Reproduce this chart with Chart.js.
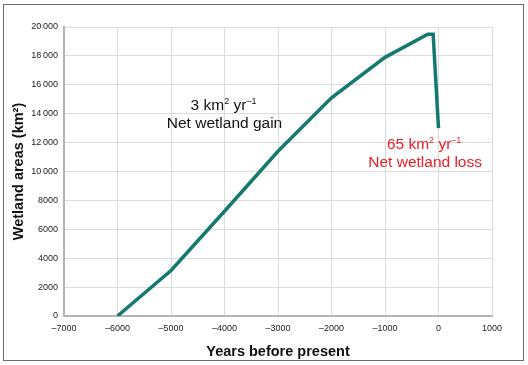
<!DOCTYPE html>
<html>
<head>
<meta charset="utf-8">
<script src="https://cdn.jsdelivr.net/npm/chart.js@4"></script>
<style>
    body { margin: 0; background: #fff; }
    #wrap { position: relative; width: 528px; height: 365px; }
    #frame { position: absolute; left: 3px; top: 4px; width: 519px; height: 355px; border: 1.5px solid #6b6b6b; }
    canvas { position: absolute; left: 0; top: 0; }
</style>
</head>
<body>
<div id="wrap">
    <div id="frame"></div>
    <canvas id="wetlandChart" width="528" height="365"></canvas>
</div>
<script>
// years before present and wetland area (km2)
const years = [-6000, -5000, -4000, -3000, -2000, -1000, -200, -100, 0];
const wetlandArea = [0, 3150, 7250, 11400, 15100, 17900, 19500, 19500, 13000];

const xTicks = [-7000, -6000, -5000, -4000, -3000, -2000, -1000, 0, 1000];
const yTicks = [0, 2000, 4000, 6000, 8000, 10000, 12000, 14000, 16000, 18000, 20000];

const fontFamily = '"Liberation Sans", Arial, Helvetica, sans-serif';

function fmtNum(v) {
    let s = String(Math.abs(v));
    if (Math.abs(v) >= 10000) {
        s = s.slice(0, s.length - 3) + '\u2009' + s.slice(-3);
    }
    return (v < 0 ? '\u2013' : '') + s;
}

// draws text + superscript pieces centred at cx
function drawRich(ctx, parts, cx, y, color) {
    ctx.save();
    ctx.fillStyle = color;
    ctx.textBaseline = 'alphabetic';
    ctx.textAlign = 'left';
    const big = '15.5px ' + fontFamily;
    const small = '9px ' + fontFamily;
    let total = 0;
    parts.forEach(p => {
        ctx.font = p.sup ? small : big;
        total += ctx.measureText(p.t).width;
    });
    let x = cx - total / 2;
    parts.forEach(p => {
        ctx.font = p.sup ? small : big;
        ctx.fillText(p.t, x, p.sup ? y - 6 : y);
        x += ctx.measureText(p.t).width;
    });
    ctx.restore();
}

const notes = {
    id: 'notes',
    afterDatasetsDraw(chart) {
        const ctx = chart.ctx;
        const xs = chart.scales.x;
        const ys = chart.scales.y;
        let cx = xs.getPixelForValue(-4000);
        let y = ys.getPixelForValue(14240);
        drawRich(ctx, [{ t: '3 km' }, { t: '2', sup: true }, { t: ' yr' }, { t: '\u20131', sup: true }], cx - 1, y, '#111');
        drawRich(ctx, [{ t: 'Net wetland gain' }], cx, y + 18, '#111');
        cx = xs.getPixelForValue(-250);
        y = ys.getPixelForValue(11560);
        drawRich(ctx, [{ t: '65 km' }, { t: '2', sup: true }, { t: ' yr' }, { t: '\u20131', sup: true }], cx - 1, y, '#ee1c25');
        drawRich(ctx, [{ t: 'Net wetland loss' }], cx, y + 18, '#ee1c25');
    }
};

new Chart(document.getElementById('wetlandChart'), {
    type: 'line',
    data: {
        datasets: [{
            data: years.map((x, i) => ({ x: x, y: wetlandArea[i] })),
            borderColor: '#16796f',
            borderWidth: 3.5,
            pointRadius: 0,
            tension: 0,
            fill: false
        }]
    },
    options: {
        responsive: false,
        animation: false,
        layout: { padding: { left: 0, top: 27, right: 36, bottom: 0 } },
        plugins: {
            legend: { display: false },
            tooltip: { enabled: false }
        },
        scales: {
            x: {
                type: 'linear',
                min: -7000,
                max: 1000,
                afterBuildTicks: s => { s.ticks = xTicks.map(v => ({ value: v })); },
                afterFit: s => { s.height = 49; },
                grid: { color: '#dcdcdc', drawTicks: false },
                border: { color: '#b4b4b4', width: 2 },
                ticks: {
                    padding: 7,
                    color: '#222',
                    font: { family: fontFamily, size: 9 },
                    callback: v => fmtNum(v)
                },
                title: {
                    display: true,
                    text: 'Years before present',
                    color: '#111',
                    font: { family: fontFamily, size: 14.5, weight: 'bold' },
                    padding: { top: 1 }
                }
            },
            y: {
                type: 'linear',
                min: 0,
                max: 20000,
                afterBuildTicks: s => { s.ticks = yTicks.map(v => ({ value: v })); },
                afterFit: s => { s.width = 64; },
                grid: { color: '#dcdcdc', drawTicks: false },
                border: { color: '#b4b4b4', width: 2 },
                ticks: {
                    padding: 6,
                    color: '#222',
                    font: { family: fontFamily, size: 9 },
                    callback: v => fmtNum(v)
                },
                title: {
                    display: true,
                    text: 'Wetland areas (km\u00b2)',
                    color: '#111',
                    font: { family: fontFamily, size: 14.5, weight: 'bold' },
                    padding: { top: 10, bottom: 0 }
                }
            }
        }
    },
    plugins: [notes]
});
</script>
</body>
</html>
